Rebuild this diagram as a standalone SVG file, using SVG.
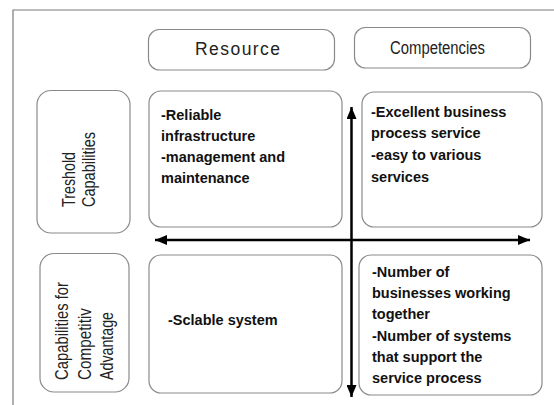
<svg xmlns="http://www.w3.org/2000/svg" width="554" height="405" viewBox="0 0 554 405">
<style>
.box{fill:#fff;stroke:#8a8a8a;stroke-width:1.2}
.hdr{font-family:"Liberation Sans",Arial,sans-serif;fill:#222}
.lbl{font-family:"Liberation Sans",Arial,sans-serif;font-size:18px;fill:#222}
.body{font-family:"Liberation Sans",Arial,sans-serif;font-size:14.5px;font-weight:bold;fill:#111}
.frame{stroke:#7a7a7a;stroke-width:1.2;fill:none}
.axis{stroke:#000;stroke-width:2.5;fill:none}
</style>
<defs>
<marker id="ah" viewBox="0 0 12 10" refX="12" refY="5" markerWidth="12" markerHeight="10" markerUnits="userSpaceOnUse" orient="auto-start-reverse">
<path d="M0,0 L12,5 L0,10 Z" fill="#000"/>
</marker>
</defs>
<rect width="554" height="405" fill="#fff"/>
<path class="frame" d="M13,405 V10 H554"/>

<g id="resource">
<rect class="box" x="148.5" y="29.5" width="186" height="40.5" rx="11"/>
<text class="hdr" x="237.5" y="55" font-size="17.5" text-anchor="middle" textLength="85" lengthAdjust="spacing">Resource</text>
</g>
<g id="competencies">
<rect class="box" x="354.5" y="27.5" width="176" height="40.5" rx="11"/>
<text class="hdr" x="437.5" y="54" font-size="18" text-anchor="middle" textLength="95" lengthAdjust="spacingAndGlyphs">Competencies</text>
</g>

<g id="treshold">
<rect class="box" x="37" y="90.5" width="93" height="142.5" rx="14"/>
<text class="lbl" transform="translate(75,207) rotate(-90)" textLength="55" lengthAdjust="spacingAndGlyphs">Treshold</text>
<text class="lbl" transform="translate(95,207) rotate(-90)" textLength="75" lengthAdjust="spacingAndGlyphs">Capabilities</text>
</g>
<g id="competitive">
<rect class="box" x="40" y="253.5" width="89" height="138.5" rx="14"/>
<text class="lbl" transform="translate(68,380) rotate(-90)" textLength="98" lengthAdjust="spacingAndGlyphs">Capabilities for</text>
<text class="lbl" transform="translate(90.5,380) rotate(-90)" textLength="72" lengthAdjust="spacingAndGlyphs">Competitiv</text>
<text class="lbl" transform="translate(112.5,380) rotate(-90)" textLength="68" lengthAdjust="spacingAndGlyphs">Advantage</text>
</g>

<g id="q1">
<rect class="box" x="149" y="91" width="193" height="136" rx="12"/>
<text class="body" x="161" y="120">-Reliable</text>
<text class="body" x="161" y="141">infrastructure</text>
<text class="body" x="161" y="162">-management and</text>
<text class="body" x="161" y="183">maintenance</text>
</g>
<g id="q2">
<rect class="box" x="362" y="92" width="180" height="135" rx="12"/>
<text class="body" x="371" y="117">-Excellent business</text>
<text class="body" x="371" y="138">process service</text>
<text class="body" x="371" y="160">-easy to various</text>
<text class="body" x="371" y="182">services</text>
</g>
<g id="q3">
<rect class="box" x="149" y="255" width="193" height="138" rx="12"/>
<text class="body" x="168" y="325">-Sclable system</text>
</g>
<g id="q4">
<rect class="box" x="359" y="255" width="183" height="140" rx="12"/>
<text class="body" x="372" y="277">-Number of</text>
<text class="body" x="372" y="298">businesses working</text>
<text class="body" x="372" y="319">together</text>
<text class="body" x="372" y="341">-Number of systems</text>
<text class="body" x="372" y="362">that support the</text>
<text class="body" x="372" y="383">service process</text>
</g>

<g id="connectors">
<line class="axis" x1="155" y1="240" x2="530" y2="240" marker-start="url(#ah)" marker-end="url(#ah)"/>
<line class="axis" x1="351.5" y1="107" x2="351.5" y2="397" marker-start="url(#ah)" marker-end="url(#ah)"/>
</g>
</svg>
